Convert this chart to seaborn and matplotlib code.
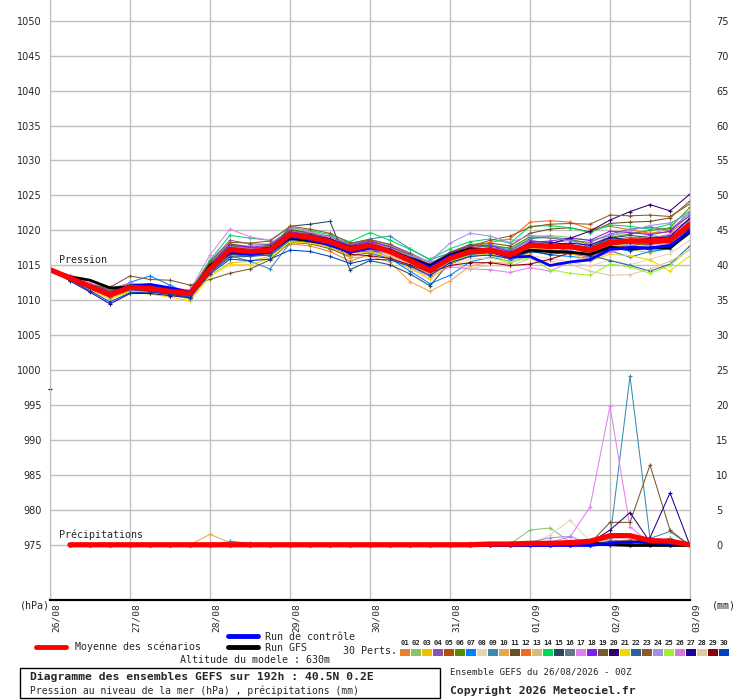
import numpy as np
import pandas as pd
import matplotlib
matplotlib.use("Agg")
import matplotlib.pyplot as plt
import seaborn as sns
from matplotlib.patches import Rectangle
from matplotlib.transforms import ScaledTranslation

# echeances (h) toutes les 6h sur 192h
heures = list(range(0, 193, 6))
dates = ['26/08', '27/08', '28/08', '29/08', '30/08', '31/08', '01/09', '02/09', '03/09']

# Pression (hPa) - 30 perturbations
p01 = [1014.4, 1013.0, 1011.8, 1010.6, 1011.6, 1011.9, 1011.2, 1010.7, 1014.0, 1016.5, 1016.4, 1016.6, 1018.1, 1017.8, 1017.0, 1015.6, 1016.6, 1016.2, 1014.9, 1013.5, 1015.4, 1016.5, 1016.9, 1016.0, 1017.2, 1016.8, 1017.0, 1016.4, 1017.6, 1018.0, 1017.4, 1018.2, 1019.8]
p02 = [1014.5, 1013.4, 1012.1, 1011.2, 1012.2, 1012.0, 1011.6, 1011.4, 1015.3, 1018.0, 1017.8, 1018.1, 1020.2, 1019.9, 1019.1, 1018.0, 1018.6, 1017.8, 1016.3, 1015.2, 1016.9, 1017.8, 1018.0, 1017.4, 1019.0, 1019.3, 1019.0, 1018.6, 1019.2, 1019.8, 1019.5, 1020.3, 1022.0]
p03 = [1014.3, 1013.1, 1011.7, 1010.4, 1011.3, 1011.2, 1010.8, 1010.2, 1013.6, 1015.4, 1015.6, 1016.3, 1018.6, 1018.5, 1017.9, 1016.9, 1017.5, 1016.8, 1015.3, 1013.4, 1015.7, 1016.8, 1017.3, 1016.3, 1018.2, 1018.0, 1017.6, 1016.9, 1018.6, 1017.3, 1016.8, 1017.6, 1019.5]
p04 = [1014.4, 1013.3, 1012.3, 1011.5, 1012.1, 1011.9, 1011.5, 1011.2, 1015.6, 1018.6, 1018.1, 1018.0, 1020.0, 1019.6, 1019.0, 1017.9, 1018.7, 1018.0, 1016.8, 1015.4, 1016.5, 1017.9, 1017.6, 1017.1, 1018.6, 1018.2, 1018.6, 1018.3, 1019.5, 1020.2, 1020.5, 1020.0, 1022.6]
p05 = [1014.4, 1013.1, 1011.8, 1010.9, 1011.8, 1011.5, 1011.1, 1010.8, 1014.2, 1016.8, 1016.5, 1016.9, 1019.0, 1018.7, 1017.9, 1016.8, 1017.1, 1016.5, 1015.0, 1013.8, 1015.2, 1016.3, 1016.6, 1015.9, 1016.9, 1017.0, 1016.7, 1016.2, 1017.4, 1017.9, 1018.1, 1018.3, 1020.2]
p06 = [1014.5, 1013.2, 1012.2, 1011.0, 1012.0, 1011.8, 1011.3, 1011.0, 1014.9, 1017.6, 1017.4, 1017.8, 1019.8, 1019.5, 1018.8, 1017.6, 1018.3, 1017.4, 1016.2, 1014.9, 1016.6, 1017.5, 1017.8, 1017.5, 1019.1, 1018.9, 1018.8, 1018.0, 1019.0, 1019.5, 1020.0, 1020.4, 1023.3]
p07 = [1014.3, 1013.0, 1011.9, 1011.1, 1012.6, 1013.5, 1012.2, 1010.9, 1014.8, 1016.7, 1016.5, 1016.4, 1018.6, 1018.2, 1017.6, 1016.5, 1016.8, 1016.0, 1014.2, 1012.4, 1013.6, 1015.5, 1016.2, 1015.6, 1017.1, 1016.5, 1016.3, 1016.0, 1017.1, 1016.2, 1017.0, 1017.4, 1019.6]
p08 = [1014.4, 1013.1, 1011.9, 1010.7, 1011.7, 1011.4, 1011.0, 1010.6, 1014.4, 1017.0, 1016.8, 1017.0, 1019.1, 1018.6, 1018.0, 1016.9, 1017.4, 1016.4, 1015.1, 1013.9, 1015.0, 1015.9, 1016.1, 1015.4, 1016.4, 1016.0, 1015.5, 1014.9, 1015.8, 1015.1, 1015.9, 1016.7, 1018.6]
p09 = [1014.5, 1013.3, 1012.0, 1010.9, 1011.8, 1011.6, 1011.2, 1010.9, 1014.1, 1016.4, 1015.6, 1014.5, 1018.2, 1019.6, 1019.2, 1018.1, 1018.8, 1019.2, 1017.4, 1015.8, 1016.8, 1017.4, 1017.9, 1017.2, 1018.8, 1019.1, 1018.7, 1017.6, 1018.8, 1017.9, 1017.2, 1018.3, 1021.4]
p10 = [1014.4, 1013.1, 1012.1, 1011.0, 1012.0, 1011.7, 1011.4, 1011.1, 1014.6, 1017.1, 1016.9, 1017.0, 1019.0, 1018.4, 1017.5, 1016.1, 1016.3, 1015.5, 1012.7, 1011.3, 1012.8, 1014.9, 1015.5, 1015.3, 1016.7, 1017.5, 1017.9, 1017.0, 1018.0, 1018.8, 1019.3, 1019.0, 1021.0]
p11 = [1014.4, 1013.4, 1012.4, 1011.6, 1012.4, 1012.1, 1011.7, 1011.3, 1015.2, 1018.1, 1017.6, 1017.5, 1020.1, 1019.7, 1018.9, 1017.8, 1018.5, 1017.6, 1016.4, 1015.0, 1016.9, 1018.0, 1018.2, 1017.8, 1019.6, 1020.2, 1020.4, 1019.8, 1021.0, 1021.2, 1021.3, 1021.8, 1024.2]
p12 = [1014.3, 1013.2, 1012.0, 1010.8, 1011.9, 1011.6, 1011.2, 1010.8, 1014.3, 1017.0, 1016.9, 1017.5, 1019.3, 1018.8, 1018.3, 1017.4, 1018.0, 1017.3, 1016.0, 1014.8, 1016.4, 1017.6, 1018.3, 1018.8, 1021.2, 1021.4, 1021.2, 1020.2, 1020.6, 1020.1, 1019.6, 1019.8, 1021.6]
p13 = [1014.4, 1013.1, 1011.9, 1010.9, 1011.9, 1011.8, 1011.4, 1011.0, 1014.7, 1017.4, 1017.3, 1017.4, 1019.5, 1019.1, 1018.6, 1017.5, 1017.9, 1017.0, 1015.8, 1014.5, 1016.1, 1016.9, 1017.0, 1016.2, 1017.6, 1016.9, 1017.4, 1016.9, 1017.8, 1018.0, 1018.4, 1018.8, 1020.6]
p14 = [1014.5, 1013.4, 1012.3, 1011.3, 1012.3, 1012.2, 1011.8, 1011.4, 1015.8, 1019.3, 1018.9, 1018.6, 1020.4, 1020.0, 1019.4, 1018.4, 1019.7, 1018.6, 1017.3, 1015.9, 1017.4, 1018.4, 1018.8, 1018.2, 1020.6, 1020.7, 1020.4, 1019.7, 1020.8, 1020.6, 1020.2, 1020.9, 1022.8]
p15 = [1014.5, 1013.0, 1011.6, 1010.7, 1011.6, 1011.4, 1011.0, 1010.6, 1014.0, 1016.2, 1016.3, 1016.8, 1020.6, 1020.9, 1021.3, 1014.4, 1015.7, 1015.1, 1013.8, 1012.1, 1015.5, 1016.7, 1016.9, 1016.6, 1018.4, 1018.3, 1018.0, 1017.6, 1018.9, 1019.3, 1019.0, 1019.3, 1021.6]
p16 = [1014.4, 1013.2, 1012.1, 1011.2, 1012.1, 1011.9, 1011.5, 1011.3, 1015.1, 1017.8, 1017.5, 1017.6, 1019.9, 1019.2, 1018.7, 1017.7, 1018.2, 1017.4, 1016.1, 1014.7, 1016.3, 1017.3, 1017.5, 1016.8, 1018.0, 1017.9, 1017.8, 1017.4, 1018.7, 1019.0, 1018.9, 1019.0, 1020.4]
p17 = [1014.6, 1013.6, 1012.5, 1011.7, 1012.5, 1012.2, 1011.8, 1011.5, 1016.5, 1020.2, 1019.1, 1018.6, 1020.5, 1019.8, 1019.0, 1017.6, 1017.2, 1016.2, 1014.6, 1013.4, 1014.8, 1014.5, 1014.4, 1014.0, 1014.7, 1014.2, 1015.5, 1016.3, 1017.0, 1017.9, 1018.8, 1019.5, 1021.3]
p18 = [1014.4, 1013.3, 1012.2, 1011.4, 1012.2, 1011.9, 1011.6, 1011.2, 1015.0, 1017.9, 1017.6, 1017.9, 1019.8, 1019.4, 1018.8, 1017.8, 1018.4, 1017.7, 1016.5, 1015.1, 1016.8, 1017.8, 1017.9, 1016.9, 1018.3, 1018.5, 1018.9, 1018.6, 1019.9, 1019.7, 1019.4, 1019.9, 1022.2]
p19 = [1014.3, 1013.0, 1012.1, 1011.9, 1013.5, 1013.0, 1012.9, 1012.2, 1013.0, 1013.9, 1014.5, 1015.8, 1018.3, 1018.1, 1017.4, 1016.3, 1017.0, 1016.9, 1015.5, 1014.0, 1015.9, 1016.8, 1017.0, 1016.4, 1017.5, 1017.2, 1017.0, 1016.6, 1017.9, 1018.2, 1018.0, 1018.4, 1020.5]
p20 = [1014.4, 1013.2, 1012.0, 1010.9, 1011.8, 1011.6, 1011.2, 1010.9, 1014.6, 1017.5, 1017.3, 1017.6, 1019.6, 1019.3, 1018.8, 1017.7, 1018.1, 1017.3, 1016.0, 1014.4, 1016.2, 1017.2, 1017.4, 1016.5, 1017.6, 1018.1, 1018.9, 1019.9, 1021.5, 1022.7, 1023.7, 1022.8, 1025.2]
p21 = [1014.3, 1012.9, 1011.5, 1010.2, 1011.2, 1010.9, 1010.5, 1009.9, 1013.5, 1015.1, 1015.1, 1016.0, 1018.4, 1018.2, 1017.6, 1016.4, 1017.0, 1016.1, 1014.6, 1013.0, 1015.3, 1016.4, 1016.6, 1016.0, 1017.5, 1017.2, 1016.8, 1015.6, 1016.6, 1016.4, 1015.8, 1014.2, 1016.4]
p22 = [1014.4, 1013.1, 1011.8, 1010.5, 1011.5, 1011.3, 1010.9, 1010.5, 1014.2, 1016.6, 1016.3, 1016.5, 1018.8, 1018.7, 1017.8, 1016.9, 1017.3, 1016.8, 1015.4, 1014.1, 1015.8, 1016.6, 1016.8, 1016.7, 1018.1, 1017.8, 1017.0, 1016.5, 1015.7, 1015.0, 1014.2, 1015.2, 1017.8]
p23 = [1014.5, 1013.3, 1012.2, 1011.3, 1012.0, 1011.8, 1011.5, 1011.1, 1015.5, 1018.3, 1018.2, 1018.5, 1020.6, 1020.2, 1019.6, 1018.2, 1018.7, 1018.0, 1016.6, 1015.1, 1016.7, 1017.7, 1018.6, 1019.2, 1020.5, 1020.9, 1021.0, 1020.9, 1022.2, 1022.1, 1022.2, 1022.0, 1023.8]
p24 = [1014.4, 1013.2, 1012.1, 1011.1, 1012.0, 1011.8, 1011.4, 1011.1, 1014.8, 1017.6, 1017.4, 1017.4, 1019.5, 1019.1, 1018.5, 1017.3, 1018.2, 1017.5, 1016.4, 1015.6, 1018.2, 1019.6, 1019.2, 1018.3, 1019.3, 1019.1, 1018.5, 1017.8, 1019.3, 1020.0, 1020.7, 1021.1, 1022.4]
p25 = [1014.4, 1013.2, 1011.9, 1010.8, 1011.8, 1011.5, 1011.2, 1010.9, 1014.6, 1017.3, 1017.0, 1017.3, 1019.2, 1018.9, 1018.2, 1017.2, 1017.6, 1016.7, 1015.3, 1014.1, 1015.6, 1016.4, 1016.5, 1015.5, 1016.1, 1014.4, 1013.9, 1013.6, 1015.2, 1014.8, 1013.9, 1015.0, 1017.4]
p26 = [1014.4, 1013.3, 1012.0, 1011.0, 1011.9, 1011.7, 1011.3, 1011.0, 1014.5, 1017.2, 1016.9, 1017.1, 1019.3, 1018.9, 1018.3, 1017.4, 1017.8, 1016.9, 1015.9, 1014.6, 1016.1, 1017.1, 1017.3, 1016.6, 1017.8, 1017.6, 1017.3, 1015.8, 1016.9, 1017.6, 1017.9, 1018.0, 1019.9]
p27 = [1014.5, 1012.8, 1011.2, 1009.5, 1011.0, 1011.0, 1010.7, 1010.4, 1014.3, 1017.0, 1016.8, 1017.0, 1019.2, 1018.9, 1018.4, 1017.2, 1017.8, 1017.3, 1016.0, 1014.6, 1016.3, 1017.2, 1017.4, 1016.8, 1018.2, 1018.0, 1018.2, 1017.9, 1019.0, 1018.6, 1018.9, 1019.1, 1021.8]
p28 = [1014.4, 1013.1, 1011.9, 1010.8, 1011.8, 1011.6, 1011.2, 1010.9, 1014.4, 1017.1, 1016.9, 1017.1, 1019.2, 1018.8, 1018.1, 1017.0, 1017.5, 1016.6, 1015.2, 1013.8, 1015.2, 1014.6, 1015.0, 1014.9, 1016.0, 1015.6, 1015.2, 1014.2, 1013.6, 1013.7, 1014.5, 1015.6, 1017.2]
p29 = [1014.4, 1013.2, 1012.0, 1010.9, 1011.9, 1011.7, 1011.3, 1011.0, 1014.6, 1017.3, 1017.1, 1017.3, 1019.3, 1018.9, 1018.2, 1016.6, 1016.4, 1016.0, 1015.1, 1014.0, 1015.0, 1015.4, 1015.4, 1015.0, 1015.2, 1015.9, 1016.8, 1017.0, 1018.1, 1018.4, 1018.2, 1018.6, 1020.3]
p30 = [1014.3, 1012.9, 1011.4, 1009.8, 1011.1, 1011.2, 1010.9, 1010.4, 1013.8, 1015.9, 1015.7, 1015.9, 1017.2, 1017.0, 1016.3, 1015.3, 1015.9, 1015.8, 1014.9, 1013.6, 1015.4, 1016.3, 1016.5, 1016.0, 1017.0, 1016.6, 1016.9, 1016.4, 1017.5, 1017.1, 1017.6, 1018.0, 1019.9]

p_controle = [1014.4, 1013.1, 1011.9, 1011.0, 1012.1, 1012.3, 1011.8, 1011.2, 1014.7, 1016.9, 1016.6, 1016.9, 1019.1, 1018.7, 1017.9, 1016.9, 1017.5, 1017.0, 1015.9, 1014.8, 1016.4, 1017.1, 1017.0, 1016.2, 1016.3, 1015.0, 1015.5, 1015.8, 1017.3, 1017.6, 1017.5, 1017.8, 1020.0]
p_gfs = [1014.4, 1013.4, 1012.9, 1011.8, 1011.9, 1011.6, 1011.4, 1010.9, 1015.0, 1016.8, 1016.8, 1017.0, 1018.9, 1018.5, 1018.0, 1017.0, 1017.6, 1017.2, 1016.0, 1015.0, 1016.5, 1017.4, 1017.1, 1016.4, 1017.2, 1017.0, 1016.9, 1016.6, 1017.6, 1017.4, 1017.5, 1017.5, 1019.8]
p_moyenne = [1014.4, 1013.2, 1012.0, 1010.8, 1011.9, 1011.7, 1011.3, 1011.0, 1014.5, 1017.3, 1017.0, 1017.2, 1019.4, 1019.0, 1018.4, 1017.3, 1017.9, 1017.0, 1015.7, 1014.3, 1016.0, 1017.0, 1017.2, 1016.5, 1017.9, 1017.7, 1017.7, 1017.2, 1018.3, 1018.5, 1018.5, 1018.6, 1020.9]

# Precipitations (mm / 6h), de 6h a 192h
r01 = [0, 0, 0, 0, 0, 0, 0, 0, 0, 0, 0, 0, 0, 0, 0, 0, 0, 0, 0, 0, 0, 0.3, 0, 0, 0, 0, 0, 0.2, 0.5, 0.3, 0, 0]
r02 = [0, 0, 0, 0, 0, 0, 0, 0, 0, 0, 0, 0, 0, 0, 0, 0, 0, 0, 0, 0, 0, 0, 0.2, 2.2, 2.5, 0.5, 0.2, 0, 0, 0.3, 0, 0]
r03 = [0, 0, 0, 0, 0, 0, 0, 0, 0, 0, 0, 0, 0, 0, 0, 0, 0, 0, 0, 0, 0, 0, 0, 0, 0, 0, 0, 0.4, 0.6, 0, 0, 0]
r04 = [0, 0, 0, 0, 0, 0, 0, 0, 0, 0, 0, 0, 0, 0, 0, 0, 0, 0, 0, 0, 0, 0, 0, 0, 0, 0, 0, 0.8, 0.5, 0, 0, 0]
r05 = [0, 0, 0, 0, 0, 0, 0, 0, 0, 0, 0, 0, 0, 0, 0, 0, 0, 0, 0, 0, 0, 0, 0, 0.3, 0, 0, 0, 0.6, 0.4, 0, 0, 0]
r06 = [0, 0, 0, 0, 0, 0, 0, 0, 0, 0, 0, 0, 0, 0.2, 0, 0, 0, 0, 0, 0, 0, 0, 0, 0, 0, 0, 0, 0.3, 0, 0, 0, 0]
r07 = [0, 0, 0, 0, 0, 0, 0, 0, 0.6, 0.3, 0, 0, 0, 0, 0, 0, 0, 0, 0, 0, 0, 0, 0, 0, 0, 0, 0, 0.4, 0, 0, 0.6, 0]
r08 = [0, 0, 0, 0, 0, 0, 0, 0, 0, 0, 0, 0, 0, 0, 0, 0, 0, 0, 0, 0, 0, 0, 0, 0, 1.5, 3.6, 0.6, 0.3, 0, 0, 0, 0]
r09 = [0, 0, 0, 0, 0, 0, 0, 0, 0, 0, 0, 0, 0, 0, 0, 0, 0, 0, 0, 0, 0, 0, 0, 0, 0, 0, 0.3, 1.0, 24.2, 1.0, 2.0, 0]
r10 = [0, 0, 0, 0, 0, 0, 0.1, 1.6, 0.4, 0, 0, 0, 0, 0, 0, 0, 0, 0, 0, 0, 0, 0, 0, 0, 0, 0, 0, 0.5, 0.6, 0, 0, 0]
r11 = [0, 0, 0, 0, 0, 0, 0, 0, 0, 0, 0, 0, 0, 0, 0, 0, 0, 0, 0, 0, 0, 0, 0, 0, 0, 0, 0, 0.6, 0.4, 0, 0, 0]
r12 = [0, 0, 0, 0, 0, 0, 0, 0, 0, 0, 0, 0, 0, 0, 0, 0, 0, 0, 0, 0, 0.3, 0, 0, 0.4, 0, 0, 0, 0.3, 0, 0, 0, 0]
r13 = [0, 0, 0, 0, 0, 0, 0, 0, 0, 0, 0, 0, 0, 0, 0, 0, 0, 0, 0, 0, 0, 0, 0, 0, 0, 0, 0.4, 0.8, 0, 0, 0, 0]
r14 = [0, 0, 0, 0, 0, 0, 0, 0, 0, 0, 0, 0, 0, 0, 0, 0, 0, 0, 0, 0, 0, 0, 0, 0.5, 0.6, 0, 0, 0, 0, 0, 0, 0]
r15 = [0, 0, 0, 0, 0, 0, 0, 0, 0, 0, 0, 0, 0, 0, 0, 0, 0, 0, 0, 0, 0, 0, 0, 0, 0, 0, 0, 0.5, 0, 0.4, 1.0, 0]
r16 = [0, 0, 0, 0, 0, 0, 0, 0, 0, 0, 0, 0, 0, 0, 0, 0, 0, 0, 0, 0, 0, 0, 0, 0, 0, 0, 0.2, 0.5, 0, 0, 0, 0]
r17 = [0, 0, 0, 0, 0, 0, 0, 0, 0, 0, 0, 0, 0, 0, 0, 0, 0, 0, 0, 0, 0, 0, 0, 0.3, 0.5, 1.2, 5.5, 19.9, 2.7, 0.3, 0.1, 0]
r18 = [0, 0, 0, 0, 0, 0, 0, 0, 0, 0, 0, 0, 0, 0, 0, 0, 0, 0, 0, 0, 0, 0, 0, 0, 0, 0, 0.4, 0.3, 0, 0, 0, 0]
r19 = [0, 0, 0, 0, 0, 0, 0, 0, 0, 0, 0, 0, 0, 0, 0, 0, 0, 0, 0, 0, 0, 0, 0.4, 0, 0, 0, 0.3, 3.3, 3.3, 11.5, 2.2, 0]
r20 = [0, 0, 0, 0, 0, 0, 0, 0, 0, 0, 0, 0, 0, 0, 0, 0, 0, 0, 0, 0, 0, 0, 0, 0, 0, 0, 0.4, 2.2, 4.7, 0.5, 0.3, 0]
r21 = [0, 0, 0, 0, 0, 0, 0, 0, 0, 0, 0, 0, 0, 0, 0, 0, 0, 0, 0, 0, 0, 0, 0, 0, 0, 0, 0, 0.3, 0.4, 0, 0, 0]
r22 = [0, 0, 0, 0, 0, 0, 0, 0, 0, 0, 0, 0, 0, 0, 0, 0, 0, 0, 0, 0, 0, 0, 0, 0, 0, 0, 0, 0.6, 0.4, 0.2, 0, 0]
r23 = [0, 0, 0, 0, 0, 0, 0, 0, 0, 0, 0, 0, 0, 0, 0, 0, 0, 0, 0, 0, 0, 0, 0.3, 0, 0, 0, 0, 0.5, 0.8, 0.6, 0, 0]
r24 = [0, 0, 0, 0, 0, 0, 0, 0, 0, 0, 0, 0, 0, 0, 0, 0, 0, 0, 0, 0, 0, 0, 0, 0.5, 1.1, 1.3, 0.2, 0, 0, 0, 0, 0]
r25 = [0, 0, 0, 0, 0, 0, 0, 0, 0, 0, 0, 0, 0, 0, 0, 0, 0, 0, 0, 0, 0, 0, 0, 0, 0, 0, 0, 0, 0, 0.4, 0.9, 0]
r26 = [0, 0, 0, 0, 0, 0, 0, 0, 0, 0, 0, 0, 0, 0, 0, 0, 0, 0, 0, 0, 0, 0, 0, 0, 0, 0, 0, 0.4, 0, 0, 0, 0]
r27 = [0, 0, 0, 0, 0, 0, 0, 0, 0, 0, 0, 0, 0, 0, 0, 0, 0, 0, 0, 0, 0, 0, 0, 0, 0, 0, 0, 0, 0.3, 1.1, 7.5, 0]
r28 = [0, 0, 0, 0, 0, 0, 0, 0, 0, 0, 0, 0, 0, 0, 0, 0, 0, 0, 0, 0, 0, 0, 0, 0, 0, 0, 0.3, 0.6, 0.5, 0, 0, 0]
r29 = [0, 0, 0, 0, 0, 0, 0, 0, 0, 0, 0, 0, 0, 0, 0, 0, 0, 0, 0, 0, 0, 0, 0, 0, 0, 0, 0, 0.2, 0, 0, 0, 0]
r30 = [0, 0, 0, 0, 0, 0, 0, 0, 0, 0, 0, 0, 0, 0, 0, 0, 0, 0, 0, 0, 0, 0, 0, 0, 0, 0, 0, 0.6, 0.5, 0.3, 0, 0]

r_controle = [0, 0, 0, 0, 0, 0, 0, 0, 0, 0, 0, 0, 0, 0, 0, 0, 0, 0, 0, 0, 0, 0, 0, 0, 0, 0, 0, 0.3, 0.5, 0.4, 0.3, 0]
r_gfs = [0, 0, 0, 0, 0, 0, 0, 0, 0, 0, 0, 0, 0, 0, 0, 0, 0, 0, 0, 0, 0, 0, 0, 0, 0, 0.3, 0.4, 0.1, 0, 0, 0, 0]
r_moyenne = [0.1, 0.1, 0.1, 0.1, 0.1, 0.1, 0.1, 0.1, 0.1, 0.1, 0.1, 0.1, 0.1, 0.1, 0.1, 0.1, 0.1, 0.1, 0.1, 0.1, 0.1, 0.2, 0.2, 0.3, 0.3, 0.4, 0.6, 1.4, 1.4, 0.7, 0.6, 0.1]

couleurs = ['#e8832e', '#86c46a', '#f0c000', '#8c54b0', '#b05000', '#5a8a00', '#0080ff', '#e8d4b0',
            '#3a8ab8', '#e8a850', '#6a5020', '#f06a20', '#d0c080', '#00d860', '#284860', '#687880',
            '#e080f0', '#8020f0', '#785830', '#300070', '#f0d800', '#2860a0', '#905828', '#a090e8',
            '#a0f030', '#d878d8', '#200098', '#e0c8a0', '#880010', '#0040c0']

pression = [p01, p02, p03, p04, p05, p06, p07, p08, p09, p10, p11, p12, p13, p14, p15,
            p16, p17, p18, p19, p20, p21, p22, p23, p24, p25, p26, p27, p28, p29, p30]
precip = [r01, r02, r03, r04, r05, r06, r07, r08, r09, r10, r11, r12, r13, r14, r15,
          r16, r17, r18, r19, r20, r21, r22, r23, r24, r25, r26, r27, r28, r29, r30]

# tables longues pour seaborn
rows_p, rows_r = [], []
for i in range(30):
    nom = f'{i + 1:02d}'
    rows_p += [(nom, h, v) for h, v in zip(heures, pression[i])]
    rows_r += [(nom, h, v) for h, v in zip(heures[1:], precip[i])]
df_p = pd.DataFrame(rows_p, columns=['membre', 'h', 'val'])
df_r = pd.DataFrame(rows_r, columns=['membre', 'h', 'val'])

sns.set_style("white")
plt.rcParams['font.family'] = ['DejaVu Sans']
mono = 'DejaVu Sans Mono'

fig = plt.figure(figsize=(7.4, 7.0), dpi=100)
ax = fig.add_axes([50 / 740, 100 / 700, 640 / 740, 600 / 700])
ax2 = ax.twinx()

bas, haut = 967.21, 1052.93
ax.set_xlim(0, 192)
ax.set_ylim(bas, haut)
ax2.set_ylim(bas - 975, haut - 975)

# grille
ax.set_yticks(range(975, 1051, 5))
ax.set_xticks(range(0, 193, 24))
ax.grid(True, color='#c0c0c0', lw=1.0)
ax.set_axisbelow(True)

for a in (ax, ax2):
    a.spines['top'].set_visible(False)
    a.spines['left'].set_color('#c0c0c0')
    a.spines['right'].set_color('#c0c0c0')
    a.spines['bottom'].set_color('black')
    a.spines['bottom'].set_linewidth(1.5)

def dessine(axe, df, hs, moy, ctrl, gfs):
    sns.lineplot(data=df, x='h', y='val', hue='membre', palette=couleurs, lw=0.75,
                 marker='+', markersize=3.5, mew=0.8, estimator=None, sort=False,
                 legend=False, ax=axe)
    for ln in axe.get_lines():
        ln.set_markeredgecolor(ln.get_color())
    sns.lineplot(x=hs, y=gfs, color='black', lw=2.0, ax=axe)
    sns.lineplot(x=hs, y=ctrl, color='#0000ff', lw=2.0, ax=axe)
    sns.lineplot(x=hs, y=moy, color='#ff0000', lw=3.8, ax=axe)

dessine(ax, df_p, heures, p_moyenne, p_controle, p_gfs)
dessine(ax2, df_r, heures[1:], r_moyenne, r_controle, r_gfs)

ax.set_xlabel('')
ax.set_ylabel('')
ax2.set_ylabel('')
ax.tick_params(axis='y', length=0, pad=6, labelsize=7)
ax2.set_yticks(range(0, 76, 5))
ax2.tick_params(axis='y', length=0, pad=19, labelsize=7)
ax.set_xticklabels(dates, rotation=90, ha='left', va='top', family=mono, fontsize=6.8)
ax.tick_params(axis='x', length=0, pad=2)
for lbl in ax.get_xticklabels():
    lbl.set_transform(lbl.get_transform() + ScaledTranslation(2 / 100, 0, fig.dpi_scale_trans))
ax.plot([0], [997.4], marker='+', color='black', ms=3, mew=0.8, clip_on=False)

# calque en pixels pour textes et legende
ov = fig.add_axes([0, 0, 1, 1])
ov.set_xlim(0, 740)
ov.set_ylim(700, 0)
ov.axis('off')

ov.text(59, 260, 'Pression', family=mono, fontsize=7.2, va='center')
ov.text(59, 535, 'Précipitations', family=mono, fontsize=7.2, va='center')
ov.text(20, 606, '(hPa)', family=mono, fontsize=7.2, va='center')
ov.text(712, 606, '(mm)', family=mono, fontsize=7.2, va='center')

ov.plot([36, 66], [647, 647], color='#ff0000', lw=3.5)
ov.text(75, 647, 'Moyenne des scénarios', family=mono, fontsize=7.2, va='center')
ov.plot([228, 258], [636, 636], color='#0000ff', lw=3.5)
ov.text(265, 637, 'Run de contrôle', family=mono, fontsize=7.2, va='center')
ov.plot([228, 258], [647, 647], color='black', lw=3.5)
ov.text(265, 648, 'Run GFS', family=mono, fontsize=7.2, va='center')
ov.text(180, 660, 'Altitude du modele : 630m', family=mono, fontsize=7.2, va='center')
ov.text(343, 651, '30 Perts.', family=mono, fontsize=7.2, va='center')

for i, c in enumerate(couleurs):
    x0 = 400 + i * 11
    ov.text(x0 + 5, 643, f'{i + 1:02d}', family=mono, fontsize=5.2, weight='bold',
            ha='center', va='center')
    ov.add_patch(Rectangle((x0, 649), 10, 7, color=c, lw=0))

ov.add_patch(Rectangle((20, 668), 420, 30, fill=False, ec='black', lw=1.0))
ov.text(30, 677, 'Diagramme des ensembles GEFS sur 192h : 40.5N 0.2E', family=mono,
        fontsize=8.2, weight='bold', va='center')
ov.text(30, 691, 'Pression au niveau de la mer (hPa) , précipitations (mm)', family=mono,
        fontsize=7.0, va='center')
ov.text(450, 672, 'Ensemble GEFS du 26/08/2026 - 00Z', family=mono, fontsize=6.6, va='center')
ov.text(450, 691, 'Copyright 2026 Meteociel.fr', family=mono, fontsize=8.2, weight='bold',
        va='center')

fig.savefig('out.png', dpi=100)
